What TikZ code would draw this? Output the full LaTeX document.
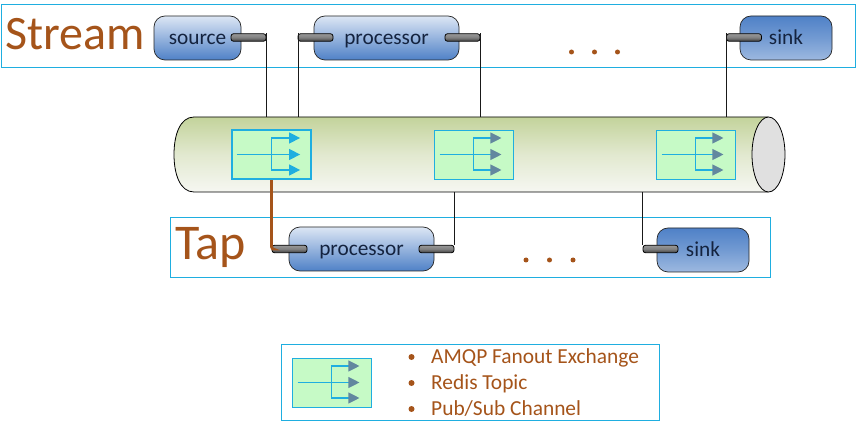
\documentclass[tikz,border=0pt]{standalone}
\usepackage{fontspec}
\setmainfont{Carlito}
\usetikzlibrary{arrows.meta,calc,positioning,shapes.geometric}
\definecolor{panelblue}{HTML}{1FAEE0}
\definecolor{brownish}{HTML}{A5541A}
\definecolor{navytext}{HTML}{14233F}
\definecolor{btop}{HTML}{DCE6F4}
\definecolor{bbot}{HTML}{4F81C7}
\definecolor{extop}{HTML}{C6FAC6}
\definecolor{tipgrey}{HTML}{62879F}
\definecolor{cyltop}{HTML}{C3D39B}
\definecolor{cylbot}{HTML}{F6F7F2}
\tikzset{
  panel/.style={draw=panelblue,line width=1.2pt,fill=white,anchor=north west,inner sep=0pt,outer sep=0pt},
  procbox/.style={draw=black!85,line width=.7pt,rounded corners=11pt,top color=btop,bottom color=bbot,middle color=bbot!50!btop,inner sep=0pt,text=navytext,font=\fontsize{21.3}{21.3}\selectfont,text height=17pt,text depth=3pt},
  sinkbox/.style={procbox,top color=bbot,bottom color=bbot!45!btop,middle color=bbot!75!btop},
  plugbox/.style={draw=black,line width=.8pt,rounded corners=2.5pt,minimum width=35pt,minimum height=7.5pt,inner sep=0pt,top color=black!40,bottom color=black!75,middle color=black!50},
  wire/.style={draw=black!90,line width=.9pt},
  tapwire/.style={draw=brownish,line width=2.6pt},
  exbox/.style={draw=panelblue,fill=extop,line width=.9pt,minimum width=79pt,minimum height=49pt,inner sep=0pt},
  exact/.style={exbox,line width=2.2pt},
  fan/.style={draw=panelblue,line width=1.1pt,-{Triangle[length=11pt,width=11pt,fill=tipgrey,color=tipgrey]}},
  fanact/.style={draw=panelblue,line width=1.5pt,-{Triangle[length=11pt,width=11pt,fill=panelblue,color=panelblue]}},
  title/.style={text=brownish,inner sep=0pt,anchor=base},
  dotm/.style={circle,fill=brownish,inner sep=0pt,minimum size=5pt},
  legendtext/.style={text=brownish,anchor=base west,inner sep=0pt,font=\fontsize{21.4}{21.4}\selectfont},
}
\newcommand{\exchange}[5]{% name, x, y, box style, arrow style
  \node[#4] (#1) at (#2,#3) {};
  \coordinate (#1i) at ($(#1.west)+(6,0)$);
  \coordinate (#1o) at ($(#1.east)+(-12,0)$);
  \coordinate (#1b) at (#1.center);
  \coordinate (#1t) at ($(#1b)+(0,-16.5)$);
  \coordinate (#1d) at ($(#1b)+(0,15.5)$);
  \draw[#5] (#1i) -- (#1o);
  \draw[#5] (#1b) -- (#1t) -- (#1o |- #1t);
  \draw[#5] (#1b) -- (#1d) -- (#1o |- #1d);
}
\begin{document}
\begin{tikzpicture}[x=1pt,y=-1pt]
\useasboundingbox (0,0) rectangle (857,422);
% panels
\node[panel,minimum width=854pt,minimum height=63pt] (streampanel) at (1.5,4.5) {};
\node[panel,minimum width=600pt,minimum height=60pt] (tappanel) at (170.5,217.5) {};
\node[panel,minimum width=378pt,minimum height=76pt] (legendpanel) at (281.5,344.5) {};
% titles
\node[title,font=\fontsize{48}{48}\selectfont] (streamtitle) at (75,50) {Stream};
\node[title,font=\fontsize{50}{50}\selectfont] (taptitle) at (210.5,260) {Tap};
% pipe
\shade[top color=cyltop,bottom color=cylbot,middle color=cyltop!40!cylbot,draw=black,line width=.8pt]
  (768,117) -- (194,117) .. controls (180,117) and (174,135) .. (174,154.5)
  .. controls (174,174) and (180,192) .. (194,192) -- (768,192) -- cycle;
\node[draw=black,fill=black!12,line width=.8pt,ellipse,minimum width=33pt,minimum height=75pt,inner sep=0pt] (pipeend) at (768.5,154.5) {};
% exchanges
\exchange{exa}{271.5}{154.5}{exact}{fanact}
\exchange{exb}{473.5}{154.5}{exbox}{fan}
\exchange{exc}{695.5}{154.5}{exbox}{fan}
\exchange{exl}{331.5}{382.5}{exbox}{fan}
% blocks
\node[procbox,minimum width=87pt,minimum height=44pt] (source) at (197.5,38) {source};
\node[procbox,minimum width=145pt,minimum height=44pt] (proc1) at (386.5,38) {processor};
\node[sinkbox,minimum width=92pt,minimum height=44pt] (sink1) at (786,38) {sink};
\node[procbox,minimum width=145pt,minimum height=44pt] (proc2) at (361.5,249) {processor};
\node[sinkbox,minimum width=92pt,minimum height=44pt] (sink2) at (703,250) {sink};
% plugs
\node[plugbox] (p1) at (248.5,37.5) {};
\node[plugbox] (p2) at (315.5,37.5) {};
\node[plugbox] (p3) at (462.5,37.5) {};
\node[plugbox] (p4) at (744,37.5) {};
\node[plugbox] (p5) at (289.5,249) {};
\node[plugbox] (p6) at (436.5,249) {};
\node[plugbox] (p7) at (660.5,249) {};
% wires
\coordinate (w1) at (266,117);
\coordinate (w2) at (298,117);
\coordinate (w3) at (480,117);
\coordinate (w4) at (726,117);
\coordinate (w5) at (454.5,192);
\coordinate (w6) at (642.5,192);
\draw[wire] (w1) -- (w1 |- p1.north);
\draw[wire] (w2) -- (w2 |- p2.north);
\draw[wire] (w3) -- (w3 |- p3.north);
\draw[wire] (w4) -- (w4 |- p4.north);
\draw[wire] (w5) -- (w5 |- p6.north);
\draw[wire] (w6) -- (w6 |- p7.north);
\draw[tapwire,rounded corners=2pt] (exa.south) -- (exa.south |- p5.west) -- (p5.west);
% ellipses
\node[dotm] (d1) at (571.5,52) {};
\node[dotm] (d2) at (594.5,52) {};
\node[dotm] (d3) at (617.5,52) {};
\node[dotm] (d4) at (526,260) {};
\node[dotm] (d5) at (549.5,260) {};
\node[dotm] (d6) at (573,260) {};
% legend
\node[dotm,minimum size=6pt] (b1) at (411.5,357) {};
\node[dotm,minimum size=6pt] (b2) at (411.5,383) {};
\node[dotm,minimum size=6pt] (b3) at (411.5,409) {};
\node[legendtext] (l1) at (431,363.5) {AMQP Fanout Exchange};
\node[legendtext] (l2) at (431,389) {Redis Topic};
\node[legendtext] (l3) at (431,415) {Pub/Sub Channel};
\end{tikzpicture}
\end{document}
